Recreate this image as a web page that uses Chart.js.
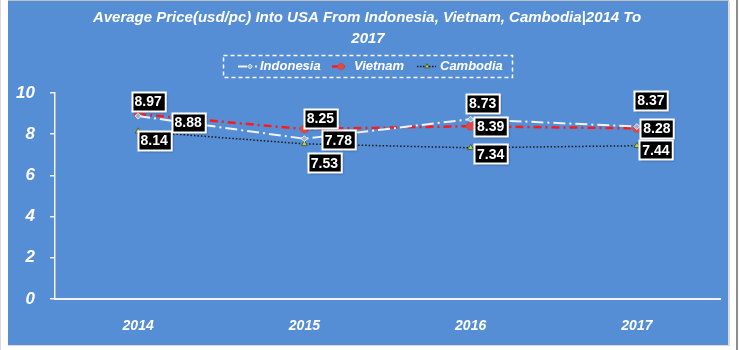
<!DOCTYPE html>
<html>
<head>
<meta charset="utf-8">
<script src="https://cdn.jsdelivr.net/npm/chart.js@4"></script>
<style>
  html, body { margin: 0; padding: 0; background: #ffffff; }
  #wrap { width: 740px; height: 350px; position: relative; }
</style>
</head>
<body>
<div id="wrap"><canvas id="c" width="740" height="350"></canvas></div>
<script>
// Average price (USD per piece) of imports into the USA
const years = ['2014', '2015', '2016', '2017'];
const indonesia = [8.88, 7.78, 8.73, 8.37];
const vietnam = [8.97, 8.25, 8.39, 8.28];
const cambodia = [8.14, 7.53, 7.34, 7.44];
const seriesNames = ['Indonesia', 'Vietnam', 'Cambodia'];
const yTicks = [0, 2, 4, 6, 8, 10];

const titleLines = ['Average Price(usd/pc) Into USA From Indonesia, Vietnam, Cambodia|2014 To', '2017'];

// Where each value callout sits relative to its point (dx, dy in px)
const calloutOffsets = [
  [[50, 6], [34, 1], [12, -16], [14, -26]],   // Indonesia
  [[10, -13], [16, -11], [20, 0], [20, 0]],   // Vietnam
  [[16, 9], [20, 19], [20, 6], [19, 4]]       // Cambodia
];

const PANEL = '#558ED5';
const FONT = '"Liberation Sans", Arial, sans-serif';

const styles = [
  { color: '#F2F2F2', width: 2, dash: [12, 4, 2, 4], legendDash: [9, 3, 2, 3], point: 'rectRot', radius: 3, fill: '#8DB4E2', stroke: '#E6EEF8', pw: 1 },
  { color: '#FF1A1A', width: 2.5, dash: [8, 4, 2, 4], legendDash: [6, 2], point: 'circle', radius: 4, fill: '#E0494A', stroke: '#C0504D', pw: 1 },
  { color: '#1A1A1A', width: 1.5, dash: [1.5, 2], legendDash: [1.5, 1.5], point: 'triangle', radius: 3.5, fill: '#B5CC6E', stroke: '#4F6228', pw: 1 }
];
const seriesData = [indonesia, vietnam, cambodia];

// Blue panel behind the whole chart
const panelPlugin = {
  id: 'panel',
  beforeDraw(chart) {
    const ctx = chart.ctx;
    ctx.save();
    ctx.fillStyle = '#ffffff';
    ctx.fillRect(0, 0, 740, 350);
    ctx.fillStyle = '#D9D9D9';
    ctx.fillRect(0, 0, 1, 350);
    ctx.fillStyle = '#BFBFBF';
    ctx.fillRect(8, 0, 721, 1);
    ctx.fillStyle = '#DADADA';
    ctx.fillRect(728, 1, 2, 345);
    ctx.fillRect(8, 345, 722, 1);
    ctx.fillStyle = PANEL;
    ctx.fillRect(8, 1, 720, 344);
    ctx.fillStyle = '#8C8C8C';
    ctx.fillRect(736, 0, 2, 350);
    ctx.restore();
  }
};

// Two-line title and dashed-box legend
const headerPlugin = {
  id: 'header',
  afterDraw(chart) {
    const ctx = chart.ctx;
    ctx.save();
    ctx.fillStyle = '#ffffff';
    ctx.font = 'italic bold 15px ' + FONT;
    ctx.textAlign = 'center';
    ctx.textBaseline = 'middle';
    ctx.fillText(titleLines[0], 367, 18);
    ctx.fillText(titleLines[1], 368, 39);

    // legend frame
    ctx.strokeStyle = '#ffffff';
    ctx.lineWidth = 1.5;
    ctx.setLineDash([4, 3]);
    ctx.strokeRect(223.5, 55.5, 289, 22);

    const items = [
      { x0: 238, x1: 257, mx: 250, tx: 260 },
      { x0: 332, x1: 345, mx: 341, tx: 354 },
      { x0: 417, x1: 436, mx: 427, tx: 440 }
    ];
    const ly = 66.5;
    items.forEach((it, i) => {
      const s = styles[i];
      ctx.setLineDash(s.legendDash);
      ctx.strokeStyle = s.color;
      ctx.lineWidth = s.width;
      ctx.beginPath();
      ctx.moveTo(it.x0, ly);
      ctx.lineTo(it.x1, ly);
      ctx.stroke();
      ctx.setLineDash([]);
      ctx.fillStyle = s.fill;
      ctx.strokeStyle = s.stroke;
      ctx.lineWidth = s.pw;
      Chart.helpers.drawPoint(ctx, {
        pointStyle: s.point, radius: s.radius * 0.8, rotation: 0, borderWidth: s.pw
      }, it.mx, ly);
      ctx.fillStyle = '#ffffff';
      ctx.font = 'italic bold 13px ' + FONT;
      ctx.textAlign = 'left';
      ctx.textBaseline = 'middle';
      ctx.fillText(seriesNames[i], it.tx, ly);
    });
    ctx.restore();
  }
};

// Black value callouts with white frames
const calloutPlugin = {
  id: 'callouts',
  afterDatasetsDraw(chart) {
    const ctx = chart.ctx;
    ctx.save();
    ctx.font = 'bold 14px ' + FONT;
    ctx.textAlign = 'center';
    ctx.textBaseline = 'middle';
    chart.data.datasets.forEach((ds, di) => {
      const meta = chart.getDatasetMeta(di);
      meta.data.forEach((pt, i) => {
        const txt = ds.data[i].toFixed(2);
        const off = calloutOffsets[di][i];
        const cx = pt.x + off[0];
        const cy = pt.y + off[1];
        const w = ctx.measureText(txt).width + 6;
        const h = 19;
        const x = Math.round(cx - w / 2) + 0.5;
        const y = Math.round(cy - h / 2) + 0.5;
        ctx.shadowColor = 'rgba(0,0,0,0.35)';
        ctx.shadowOffsetX = 1;
        ctx.shadowOffsetY = 1;
        ctx.shadowBlur = 2;
        ctx.fillStyle = '#000000';
        ctx.fillRect(x, y, w, h);
        ctx.shadowColor = 'transparent';
        ctx.strokeStyle = '#ffffff';
        ctx.lineWidth = 2;
        ctx.strokeRect(x, y, w, h);
        ctx.fillStyle = '#ffffff';
        ctx.fillText(txt, cx, cy + 1);
      });
    });
    ctx.restore();
  }
};

const datasets = seriesData.map((arr, i) => ({
  label: seriesNames[i],
  data: arr,
  borderColor: styles[i].color,
  borderWidth: styles[i].width,
  borderDash: styles[i].dash,
  pointStyle: styles[i].point,
  pointRadius: styles[i].radius,
  pointBackgroundColor: styles[i].fill,
  pointBorderColor: styles[i].stroke,
  pointBorderWidth: styles[i].pw,
  tension: 0,
  fill: false
}));

new Chart(document.getElementById('c'), {
  type: 'line',
  data: { labels: years, datasets: datasets },
  options: {
    responsive: false,
    animation: false,
    devicePixelRatio: 1,
    layout: { padding: { top: 93, right: 20, left: 0, bottom: 0 } },
    plugins: {
      legend: { display: false },
      title: { display: false },
      tooltip: { enabled: false }
    },
    scales: {
      x: {
        offset: true,
        grid: { display: false, drawTicks: false },
        border: { display: true, color: '#F2F2F2', width: 2 },
        ticks: {
          color: '#ffffff',
          padding: 19,
          font: { family: FONT, size: 14, weight: 'bold', style: 'italic' }
        },
        afterFit(s) { s.height = 51; }
      },
      y: {
        min: 0,
        max: 10,
        afterBuildTicks(s) { s.ticks = yTicks.map(v => ({ value: v })); },
        grid: { display: true, drawOnChartArea: false, drawTicks: true, tickLength: 5, color: '#F2F2F2', lineWidth: 1.5 },
        border: { display: true, color: '#F2F2F2', width: 1.5 },
        ticks: {
          color: '#ffffff',
          padding: 15,
          font: { family: FONT, size: 17, weight: 'bold', style: 'italic' }
        },
        afterFit(s) { s.width = 55; }
      }
    }
  },
  plugins: [panelPlugin, headerPlugin, calloutPlugin]
});
</script>
</body>
</html>
